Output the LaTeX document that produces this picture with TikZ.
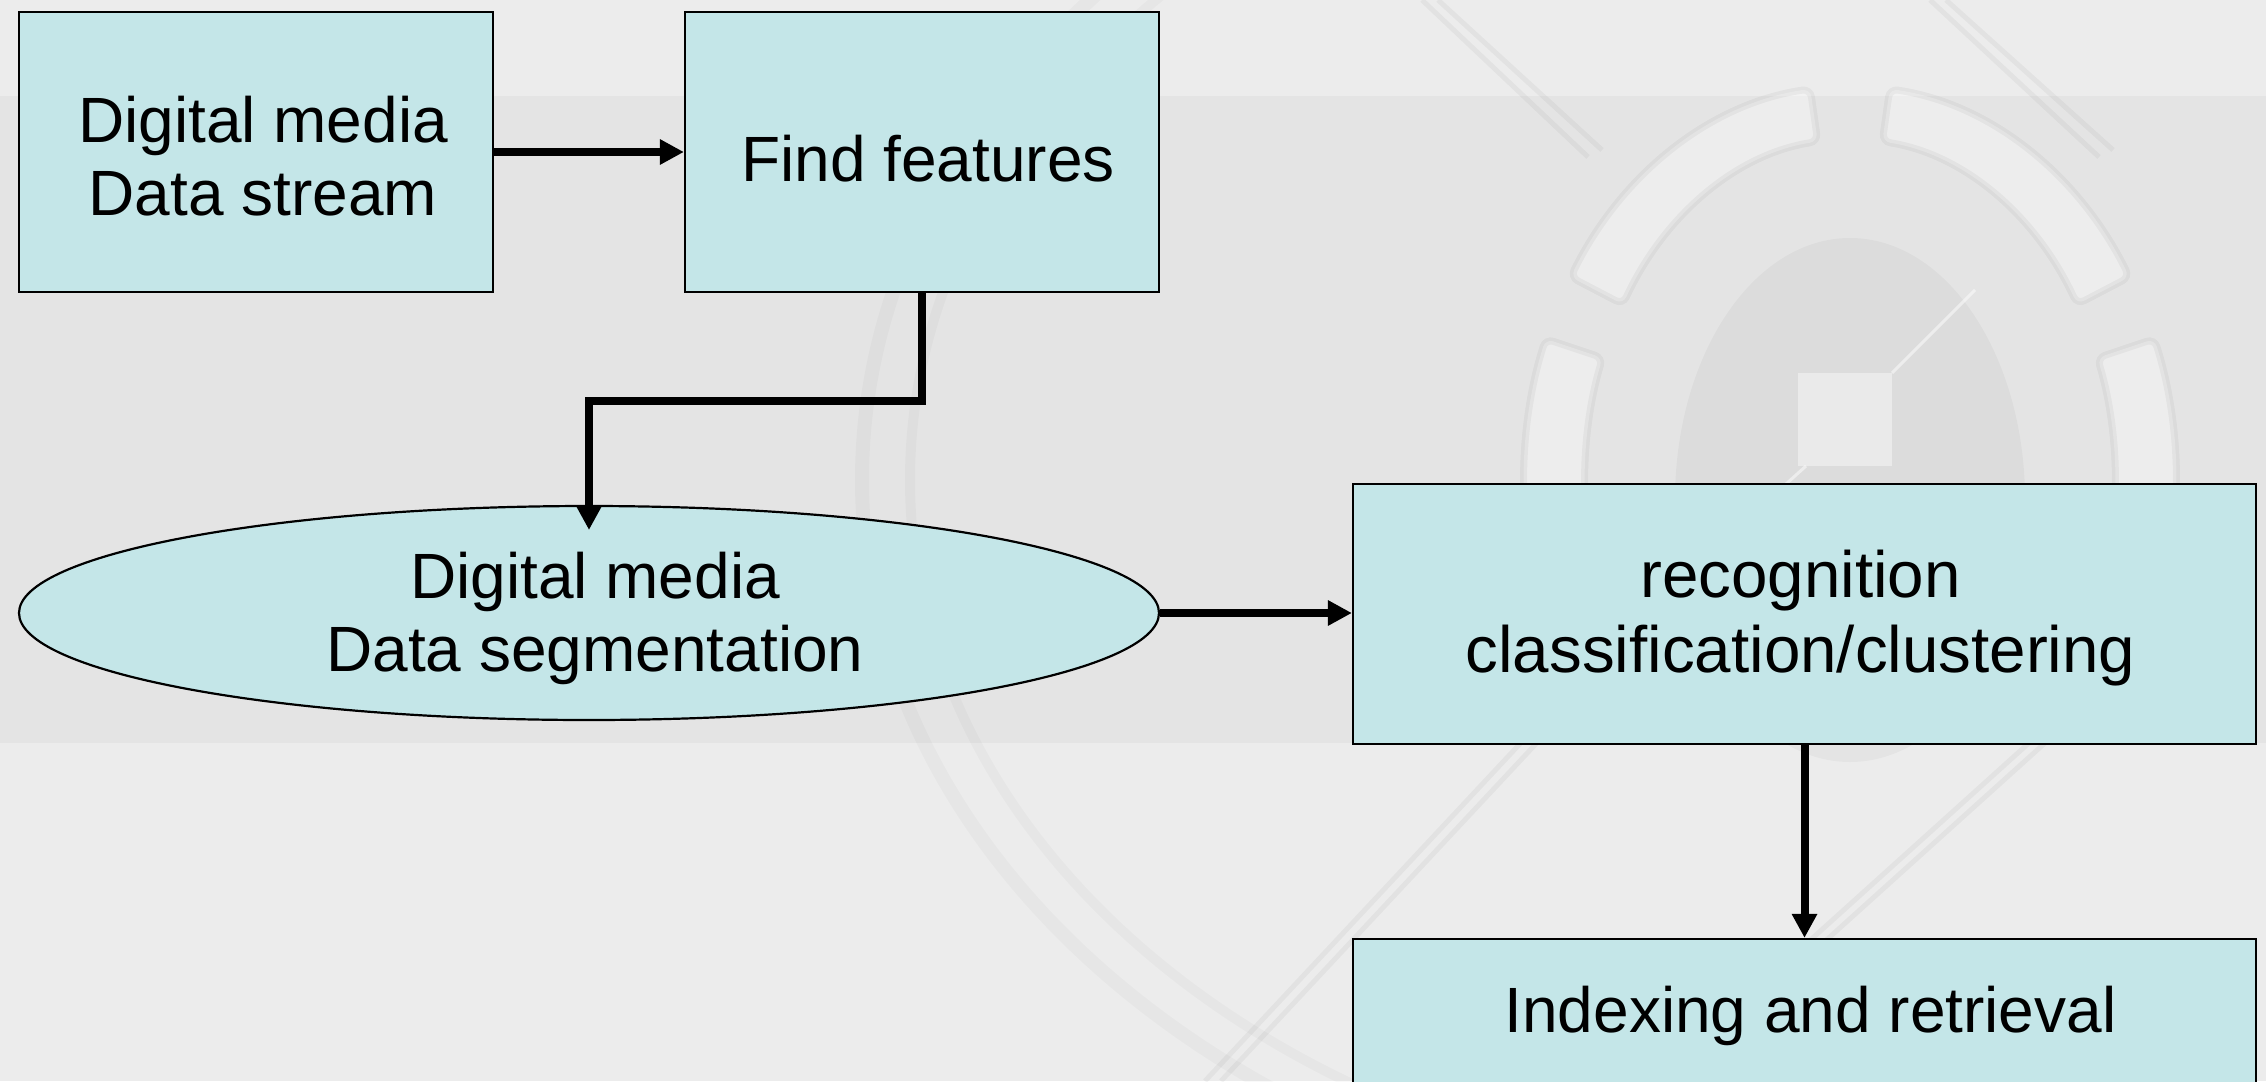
\documentclass[tikz,border=0pt]{standalone}
\usepackage{fontspec}
\setmainfont{Liberation Sans}
\usetikzlibrary{shapes.geometric,arrows.meta}

\definecolor{boxfill}{HTML}{C4E6E8}
\definecolor{pagebg}{HTML}{ECECEC}
\definecolor{bandbg}{HTML}{E4E4E4}

% annular segment of the emblem ring, between two angles
\newcommand\ringseg[2]{%
  \path[segstyle] ([shift={(#1:326 and 394)}]wc)
    arc[start angle=#1, end angle=#2, x radius=326, y radius=394]
    -- ([shift={(#2:265 and 341)}]wc)
    arc[start angle=#2, end angle=#1, x radius=265, y radius=341] -- cycle;}

\begin{document}
\begin{tikzpicture}[x=1pt,y=-1pt,
  boxstyle/.style={draw=black, line width=2.2pt, fill=boxfill, inner sep=0pt},
  ovalstyle/.style={boxstyle, ellipse},
  txt/.style={inner sep=0pt, align=center, font=\fontsize{64}{73}\selectfont},
  arr/.style={line width=8pt, -{Triangle[length=24pt,width=24pt]}},
  segstyle/.style={fill=white, fill opacity=0.35, draw=black, draw opacity=0.04,
    line width=7pt, rounded corners=8pt},
  faint/.style={draw=black, draw opacity=0.04},
]
\useasboundingbox (0,0) rectangle (2266,1081);
\clip (0,0) rectangle (2266,1081);

% background and horizontal band
\fill[pagebg] (0,0) rectangle (2266,1081);
\fill[bandbg] (0,96) rectangle (2266,743);

% faint emblem in the background
\coordinate (wc) at (1850,480);
\draw[faint, draw opacity=0.022, line width=14pt] (wc) ellipse [x radius=988, y radius=751];
\draw[faint, draw opacity=0.022, line width=10pt] (wc) ellipse [x radius=940, y radius=712];
\fill[black, opacity=0.03] (1850,500) ellipse [x radius=175, y radius=262];
\ringseg{-97}{-149}
\ringseg{-83}{-31}
\ringseg{-159}{-190}
\ringseg{-21}{10}
\fill[white, opacity=0.4] (1798,373) rectangle (1892,466);
\draw[white, opacity=0.5, line width=3pt] (1892,373) -- (1975,290);
\draw[white, opacity=0.5, line width=3pt] (1806,466) -- (1786,484);
\draw[faint, line width=5pt] (1422,0) -- (1588,157);
\draw[faint, line width=5pt] (1438,0) -- (1602,150);
\draw[faint, line width=5pt] (1930,0) -- (2099,157);
\draw[faint, line width=5pt] (1946,0) -- (2113,150);
\draw[faint, line width=5pt] (1530,733) -- (1205,1081);
\draw[faint, line width=5pt] (1546,733) -- (1221,1081);
\draw[faint, line width=5pt] (2040,733) -- (1654,1081);
\draw[faint, line width=5pt] (2056,733) -- (1670,1081);

% flow chart shapes
\node[boxstyle, minimum width=474pt, minimum height=280pt] (stream) at (256,152) {};
\node[boxstyle, minimum width=474pt, minimum height=280pt] (feat) at (922,152) {};
\node[ovalstyle, minimum width=1140pt, minimum height=214pt] (seg) at (589,613) {};
\node[boxstyle, minimum width=903pt, minimum height=260pt] (recog) at (1804.5,614) {};
\node[boxstyle, minimum width=903pt, minimum height=146pt] (index) at (1804.5,1012) {};

% their labels
\node[txt] (stream-t) at ([shift={(7,4)}]stream.center) {Digital media\\Data stream};
\node[txt] (feat-t) at ([shift={(6,7)}]feat.center) {Find features};
\node[txt] (seg-t) at ([shift={(6,5)}]seg.center) {Digital media\\Data segmentation};
\node[txt, font=\fontsize{65.5}{75}\selectfont] (recog-t) at ([shift={(-4,4)}]recog.center)
  {recognition\\classification/clustering};
\node[txt] (index-t) at ([shift={(6,4)}]index.center) {Indexing and retrieval};

% connectors
\coordinate (bend) at (589,401);
\coordinate (segtip) at (589,530);
\draw[arr] (stream.east) -- (feat.west);
\draw[arr] (feat.south) |- (bend) -- (segtip);
\draw[arr] (seg.east) -- (recog.west |- seg.east);
\draw[arr] (recog.south) -- (index.north);
\end{tikzpicture}
\end{document}
